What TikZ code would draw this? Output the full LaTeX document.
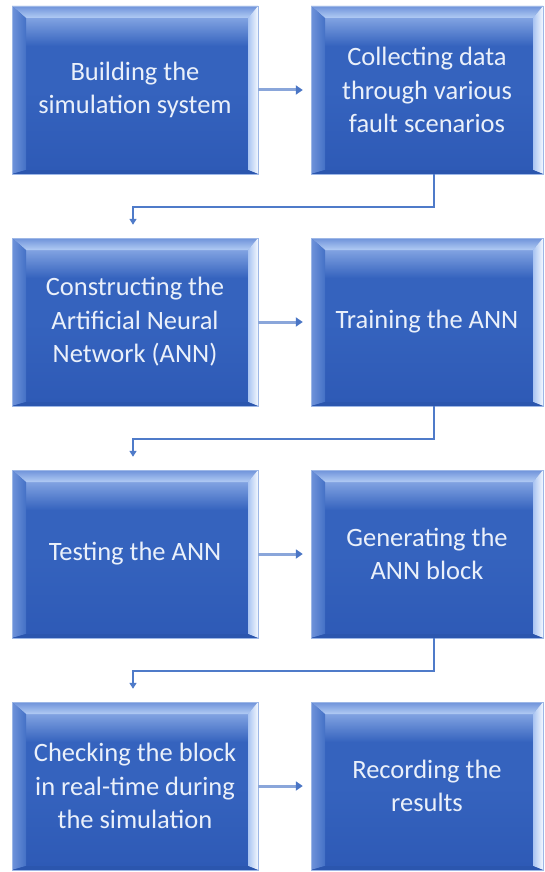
\documentclass[tikz,border=0pt]{standalone}
\usepackage{fontspec}
\setmainfont{Carlito}
\usetikzlibrary{arrows.meta,calc}
\definecolor{face}{HTML}{3563BE}
\definecolor{faceBot}{HTML}{2E5AB6}
\definecolor{faceHi}{HTML}{86A7E4}
\definecolor{bevTopA}{HTML}{6E92DA}
\definecolor{bevTopB}{HTML}{B2CCF4}
\definecolor{bevLeftA}{HTML}{6F93DA}
\definecolor{bevLeftB}{HTML}{4471C6}
\definecolor{bevRightA}{HTML}{A9C4F2}
\definecolor{bevRightB}{HTML}{F4F8FE}
\definecolor{bevBot}{HTML}{2B56AE}
\definecolor{rimCol}{HTML}{9DB7E6}
\definecolor{txtCol}{HTML}{EAF0FA}
\definecolor{hArrowCol}{HTML}{8AA6DA}
\definecolor{hTipCol}{HTML}{4A75C5}
\definecolor{eArrowCol}{HTML}{4F7BC9}
\tikzset{
  boxtext/.style={text=txtCol, font=\fontsize{26.5}{33.5}\selectfont, align=center, inner sep=0pt},
  harrow/.style={draw=hArrowCol, line width=3pt, -{Triangle[length=7pt,width=9pt,color=hTipCol]}},
  earrow/.style={draw=eArrowCol, line width=1.6pt, -{Triangle[length=6pt,width=7pt]}},
}
\newcommand\bevbox[6]{%
  \fill[face] (#2,#3) rectangle (#4,#5);
  \shade[top color=faceHi, bottom color=face] (#2,#3+10) rectangle (#4,#3+40);
  \shade[top color=face, bottom color=faceBot] (#2,{(#3+#5)/2}) rectangle (#4,#5-3);
  % top bevel
  \shade[top color=bevTopA, bottom color=bevTopB] (#2,#3) -- (#4,#3) -- (#4-10,#3+12) -- (#2+14,#3+12) -- cycle;
  % left bevel
  \shade[left color=bevLeftA, right color=bevLeftB] (#2,#3) -- (#2+14,#3+12) -- (#2+14,#5-4) -- (#2,#5) -- cycle;
  % right bevel
  \shade[left color=bevRightA, right color=bevRightB] (#4,#3) -- (#4-10,#3+12) -- (#4-10,#5-4) -- (#4,#5) -- cycle;
  % bottom bevel
  \fill[bevBot] (#2,#5) -- (#2+14,#5-4) -- (#4-10,#5-4) -- (#4,#5) -- cycle;
  \draw[rimCol, line width=0.8pt] (#2,#3) rectangle (#4,#5);
  \node[boxtext, minimum width={(#4-#2)*1pt}, minimum height={(#5-#3)*1pt}] (#1) at ({(#2+#4)/2},{(#3+#5)/2}) {#6};
}
\begin{document}
\begin{tikzpicture}[x=1pt,y=-1pt]
\useasboundingbox (0,0) rectangle (544,872);
\bevbox{b1}{12}{6}{258}{174}{Building the\\simulation system}
\bevbox{b2}{311}{6}{543}{174}{Collecting data\\through various\\fault scenarios}
\bevbox{b3}{12}{238}{258}{406}{Constructing the\\Artificial Neural\\Network (ANN)}
\bevbox{b4}{311}{238}{543}{406}{Training the ANN}
\bevbox{b5}{12}{470}{258}{638}{Testing the ANN}
\bevbox{b6}{311}{470}{543}{638}{Generating the\\ANN block}
\bevbox{b7}{12}{702}{258}{870}{Checking the block\\in real-time during\\the simulation}
\bevbox{b8}{311}{702}{543}{870}{Recording the\\results}
\draw[harrow] (b1.east) -- ([xshift=-8pt]b2.west);
\draw[harrow] (b3.east) -- ([xshift=-8pt]b4.west);
\draw[harrow] (b5.east) -- ([xshift=-8pt]b6.west);
\draw[harrow] (b7.east) -- ([xshift=-8pt]b8.west);
\draw[earrow] ([xshift=7pt]b2.south) -- ++(0,33) -| ([xshift=-2pt,yshift=13pt]b3.north);
\draw[earrow] ([xshift=7pt]b4.south) -- ++(0,33) -| ([xshift=-2pt,yshift=13pt]b5.north);
\draw[earrow] ([xshift=7pt]b6.south) -- ++(0,33) -| ([xshift=-2pt,yshift=13pt]b7.north);
\end{tikzpicture}
\end{document}
